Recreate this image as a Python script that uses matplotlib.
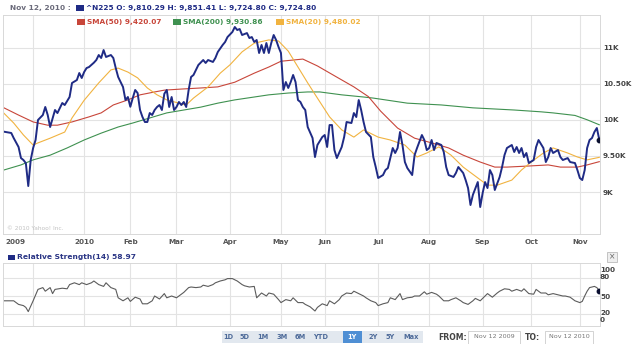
import matplotlib
matplotlib.use("Agg")
import matplotlib.pyplot as plt
from matplotlib.patches import Rectangle

W, H, DPI = 640, 344, 100

# ---- Nikkei 225 daily closes, x = trading session since Nov 12 2009 ----
close_session = [0, 3, 4, 6, 7, 8, 9, 10, 11, 12, 13, 14, 16, 17, 18, 19, 21, 22, 23, 24,
                 25, 27, 28, 30, 31, 32, 33, 34, 35, 37, 38, 39, 40, 41, 42, 44, 45, 46, 47, 49,
                 50, 51, 52, 53, 54, 55, 56, 57, 58, 59, 60, 61, 62, 63, 64, 65, 66, 67, 68, 69,
                 70, 71, 72, 73, 74, 75, 76, 77, 78, 79, 80, 82, 83, 84, 86, 87, 88, 90, 91, 92,
                 94, 95, 96, 97, 98, 100, 101, 102, 103, 104, 105, 106, 107, 108, 109, 110, 111,
                 112, 113, 114, 115, 116, 117, 118, 119, 120, 121, 122, 123, 124, 125, 127, 128,
                 129, 131, 132, 133, 134, 135, 136, 137, 139, 140, 141, 143, 144, 145, 146, 147,
                 148, 149, 151, 152, 153, 154, 156, 157, 158, 160, 161, 162, 163, 164, 165, 166,
                 168, 169, 170, 172, 173, 174, 175, 176, 177, 178, 180, 181, 182, 183, 185, 186,
                 187, 189, 190, 191, 192, 193, 195, 196, 197, 198, 199, 200, 201, 202, 204, 205,
                 206, 207, 209, 210, 211, 212, 213, 214, 215, 216, 218, 219, 220, 222, 223, 224,
                 225, 226, 228, 229, 230, 232, 233, 235, 236, 237, 238, 239, 240, 241, 242, 243,
                 244, 245]
close_value = [9835, 9817, 9747, 9623, 9470, 9443, 9400, 9083, 9443, 9609, 9720, 9997, 10066,
               10177, 10066, 9900, 10135, 10093, 10163, 10232, 10204, 10315, 10509, 10550, 10647,
               10578, 10661, 10716, 10730, 10790, 10827, 10896, 10855, 10965, 10869, 10896, 10855,
               10716, 10592, 10453, 10273, 10315, 10180, 10300, 10412, 10370, 10135, 10038, 9969,
               9969, 10093, 10066, 10135, 10177, 10204, 10135, 10360, 10412, 10177, 10315, 10135,
               10177, 10246, 10204, 10246, 10177, 10412, 10592, 10620, 10689, 10758, 10827, 10786,
               10827, 10800, 10855, 10938, 11035, 11076, 11145, 11215, 11284, 11242, 11256, 11173,
               11200, 11131, 11145, 11076, 11104, 10924, 11035, 10924, 11062, 10924, 11062, 11173,
               11104, 11007, 10924, 10412, 10522, 10440, 10522, 10620, 10522, 10273, 10246, 10177,
               10135, 9900, 9747, 9484, 9651, 9761, 9789, 9623, 9927, 9927, 9581, 9470, 9623,
               9761, 9969, 9955, 10093, 10038, 10273, 10135, 9969, 9831, 9761, 9484, 9346, 9194,
               9235, 9304, 9332, 9609, 9540, 9609, 9831, 9651, 9415, 9332, 9235, 9512, 9609, 9789,
               9720, 9581, 9609, 9720, 9581, 9679, 9651, 9554, 9346, 9235, 9208, 9263, 9346, 9263,
               9166, 9055, 8820, 8962, 9138, 8792, 8986, 9138, 9055, 9304, 9235, 9028, 9208, 9346,
               9512, 9609, 9651, 9554, 9623, 9540, 9609, 9484, 9540, 9401, 9443, 9623, 9720, 9609,
               9415, 9484, 9609, 9540, 9581, 9484, 9443, 9470, 9415, 9401, 9304, 9194, 9166, 9304,
               9609, 9720, 9747, 9831, 9886, 9724.80]

# ---- moving averages ----
sma20_session = [0, 4, 8, 12, 14, 19, 25, 28, 33, 39, 44, 47, 51, 55, 59, 63, 67, 72, 75, 78,
                 84, 89, 93, 98, 103, 109, 113, 117, 121, 125, 129, 134, 139, 144, 148, 154, 159,
                 165, 170, 174, 179, 184, 189, 195, 199, 203, 209, 213, 217, 222, 226, 232, 236,
                 240, 245]
sma20_value = [10090, 9955, 9790, 9650, 9680, 9745, 9830, 10025, 10270, 10510, 10690, 10715,
               10660, 10580, 10440, 10345, 10275, 10230, 10205, 10300, 10455, 10645, 10760, 10940,
               11060, 11105, 11090, 10950, 10730, 10510, 10300, 10040, 9860, 9760, 9860, 9760,
               9720, 9650, 9485, 9540, 9625, 9510, 9345, 9195, 9095, 9095, 9165, 9305, 9415, 9540,
               9610, 9540, 9485, 9445, 9480.02]

sma50_session = [0, 6, 12, 18, 22, 28, 35, 40, 45, 51, 56, 62, 66, 73, 81, 88, 95, 103, 109,
                 114, 123, 129, 137, 144, 150, 155, 162, 169, 176, 183, 189, 196, 202, 207, 216,
                 224, 229, 236, 240, 245]
sma50_value = [10165, 10065, 9970, 9925, 9925, 9970, 10040, 10095, 10205, 10275, 10345, 10385,
               10410, 10425, 10440, 10455, 10520, 10645, 10730, 10810, 10840, 10745, 10590, 10455,
               10320, 10120, 9885, 9745, 9680, 9610, 9510, 9415, 9345, 9345, 9360, 9375, 9345,
               9345, 9375, 9420.07]

sma200_session = [0, 7, 12, 19, 26, 33, 40, 47, 53, 60, 67, 74, 81, 88, 95, 103, 109, 117, 125,
                  130, 139, 148, 152, 166, 180, 193, 210, 221, 226, 235, 240, 245]
sma200_value = [9305, 9375, 9445, 9510, 9610, 9720, 9815, 9900, 9955, 10025, 10095, 10135,
                10175, 10230, 10275, 10315, 10345, 10370, 10385, 10385, 10345, 10315, 10300,
                10230, 10205, 10165, 10135, 10110, 10095, 10060, 10000, 9930.86]

# ---- relative strength index (14) ----
rsi_session = [0, 4, 6, 8, 9, 10, 12, 14, 16, 17, 19, 20, 21, 24, 26, 27, 29, 31, 32, 34, 36,
               37, 39, 41, 42, 44, 46, 47, 49, 51, 52, 54, 56, 57, 59, 61, 62, 64, 66, 67, 69,
               71, 72, 74, 76, 77, 79, 81, 82, 84, 86, 87, 89, 91, 92, 94, 96, 98, 99, 101, 103,
               104, 106, 108, 109, 111, 113, 114, 116, 118, 119, 121, 123, 124, 126, 128, 129,
               131, 133, 134, 136, 138, 139, 141, 143, 144, 146, 148, 149, 151, 153, 154, 156,
               158, 159, 161, 163, 164, 166, 168, 169, 171, 173, 174, 176, 178, 179, 181, 183,
               184, 186, 188, 189, 191, 193, 194, 196, 198, 199, 201, 203, 204, 206, 208, 209,
               211, 213, 214, 216, 218, 219, 221, 223, 224, 226, 228, 230, 231, 233, 235, 237,
               238, 239, 240, 241, 242, 243, 244, 245]
rsi_value = [42, 42, 36, 34, 31, 24, 42, 61, 64, 58, 64, 54, 61, 63, 62, 69, 72, 69, 72, 69,
             72, 75, 69, 66, 72, 64, 61, 47, 42, 47, 41, 48, 45, 37, 37, 42, 50, 45, 54, 47, 50,
             47, 50, 56, 64, 65, 64, 65, 68, 66, 69, 72, 75, 77, 79, 79, 75, 69, 67, 65, 66, 47,
             55, 50, 55, 53, 44, 39, 44, 42, 47, 39, 39, 36, 32, 25, 31, 37, 34, 42, 37, 44, 50,
             55, 54, 58, 54, 50, 47, 42, 39, 34, 37, 39, 47, 44, 54, 44, 47, 48, 50, 50, 57, 53,
             56, 53, 50, 42, 42, 44, 47, 42, 39, 36, 42, 46, 42, 50, 54, 48, 55, 58, 62, 61, 58,
             61, 58, 62, 54, 53, 61, 55, 55, 52, 54, 52, 50, 50, 48, 42, 39, 41, 50, 58, 64, 65,
             66, 64, 58.97]

# ---- axis annotations ----
month_sessions = [12, 33, 52, 71, 93, 114, 132, 154, 175, 197, 217, 237]
month_labels = ["", "2010", "Feb", "Mar", "Apr", "May", "Jun", "Jul", "Aug", "Sep", "Oct", "Nov"]
first_label = "2009"
price_ticks = [9000, 9500, 10000, 10500, 11000]
price_tick_labels = ["9K", "9.50K", "10K", "10.50K", "11K"]
rsi_grid = [80, 50, 20]
rsi_tick_labels = ["100", "80", "50", "20", "0"]

quote_date = "Nov 12, 2010"
quote_symbol = "^N225"
quote_open, quote_high, quote_low = 9810.29, 9851.41, 9724.80
range_buttons = ["1D", "5D", "1M", "3M", "6M", "YTD", "1Y", "2Y", "5Y", "Max"]
selected_range = "1Y"
date_from, date_to = "Nov 12 2009", "Nov 12 2010"

NAVY = "#1f2b85"
RED = "#c8463a"
GREEN = "#3f9150"
ORANGE = "#f1b340"
GRID = "#e3e3e3"

plt.rcParams["font.family"] = ["DejaVu Sans"]

fig = plt.figure(figsize=(W / DPI, H / DPI), dpi=DPI)
fig.patch.set_facecolor("white")


def rect(l, t, r, b):
    return [l / W, 1 - b / H, (r - l) / W, (b - t) / H]


def put(x, y, s, **kw):
    kw.setdefault("va", "center")
    kw.setdefault("zorder", 8)
    fig.text(x / W, 1 - y / H, s, **kw)


def swatch(l, t, r, b, color, **kw):
    fig.patches.append(Rectangle((l / W, 1 - b / H), (r - l) / W, (b - t) / H,
                                 transform=fig.transFigure, facecolor=color,
                                 edgecolor=kw.get("edge", "none"), lw=kw.get("lw", 0.6),
                                 zorder=kw.get("z", 5)))


def style_axes(a):
    for sp in a.spines.values():
        sp.set_color("#d8d8d8")
        sp.set_linewidth(0.7)
    a.set_xlim(-0.4, 245.3)
    a.set_xticks(month_sessions)
    a.grid(True, color=GRID, lw=0.8)
    a.set_axisbelow(True)
    a.tick_params(length=0)


# ---- price panel ----
ax = fig.add_axes(rect(3, 15, 600, 234))
style_axes(ax)
ax.set_ylim(8419, 11450)
ax.set_yticks(price_ticks)
ax.yaxis.tick_right()
ax.set_yticklabels(price_tick_labels, fontsize=5.2, fontweight="bold", color="#444444")
ax.tick_params(axis="y", pad=2)
ax.set_xticklabels(month_labels, fontsize=5.2, fontweight="bold", color="#555555")
ax.tick_params(axis="x", pad=3.5)

ax.plot(sma200_session, sma200_value, color=GREEN, lw=0.8)
ax.plot(sma50_session, sma50_value, color=RED, lw=0.8)
ax.plot(sma20_session, sma20_value, color=ORANGE, lw=0.8)
ax.plot(close_session, close_value, color=NAVY, lw=1.4, solid_joinstyle="round")
ax.plot(close_session[-1], close_value[-1], "o", color="#0a0f30", ms=3.2)

put(5, 242, first_label, ha="left", fontsize=5.2, fontweight="bold", color="#555555")
put(7, 228, "\u00a9 2010 Yahoo! Inc.", ha="left", fontsize=4.2, color="#c2c2c2")

# ---- quote header and legend ----
put(10, 8, quote_date + " :", ha="left", fontsize=5.3, fontweight="bold", color="#6a6a7a")
swatch(76, 5.5, 84, 10.5, NAVY)
put(86, 8, f"{quote_symbol} O: {quote_open:,.2f} H: {quote_high:,.2f} L: {quote_low:,.2f} "
           f"C: {close_value[-1]:,.2f}",
    ha="left", fontsize=5.3, fontweight="bold", color=NAVY)

legend_items = [(77, RED, f"SMA(50) {sma50_value[-1]:,.2f}"),
                (173, GREEN, f"SMA(200) {sma200_value[-1]:,.2f}"),
                (276, ORANGE, f"SMA(20) {sma20_value[-1]:,.2f}")]
for x0, col, txt in legend_items:
    swatch(x0, 19.5, x0 + 8, 24.5, col)
    put(x0 + 10, 22, txt, ha="left", fontsize=5.3, fontweight="bold", color=col)

# ---- RSI panel ----
rax = fig.add_axes(rect(3, 263, 600, 326))
style_axes(rax)
rax.set_ylim(0, 105)
rax.set_yticks(rsi_grid)
rax.set_xticklabels([])
rax.set_yticklabels([])
rax.plot(rsi_session, rsi_value, color="#5c5c5c", lw=0.8)
rax.plot(rsi_session[-1], rsi_value[-1], "o", color="#0a0f30", ms=3.2)

for lab, y in zip(rsi_tick_labels, [270, 277, 297, 313, 320]):
    put(600, y, lab, ha="left", fontsize=5.2, fontweight="bold", color="#444444")

swatch(8, 255, 15, 259.5, NAVY)
put(17, 257, f"Relative Strength(14) {rsi_value[-1]:.2f}", ha="left", fontsize=5.4,
    fontweight="bold", color="#2a3585")
swatch(607, 252, 617, 262, "#eeeeee", edge="#bbbbbb")
put(612, 257, "\u00d7", ha="center", fontsize=5.5, color="#666666")

# ---- range selector ----
swatch(222, 331, 423, 343, "#e2e8ef")
btn_x = [228, 245, 263, 282, 300, 321, 352, 373, 390, 411]
for x, lab in zip(btn_x, range_buttons):
    if lab == selected_range:
        swatch(343, 331, 362, 343, "#4f8fd4", z=6)
        put(x, 337, lab, ha="center", fontsize=4.8, fontweight="bold", color="white")
    else:
        put(x, 337, lab, ha="center", fontsize=4.8, fontweight="bold", color="#4d6a99")

put(438, 337, "FROM:", ha="left", fontsize=5.6, fontweight="bold", color="#444444")
swatch(468, 331, 520, 343.5, "white", edge="#cccccc")
put(494, 337, date_from, ha="center", fontsize=4.6, color="#777777")
put(525, 337, "TO:", ha="left", fontsize=5.6, fontweight="bold", color="#444444")
swatch(545, 331, 593, 343.5, "white", edge="#cccccc")
put(569, 337, date_to, ha="center", fontsize=4.6, color="#777777")

fig.savefig("out.png", dpi=DPI, facecolor="white")
